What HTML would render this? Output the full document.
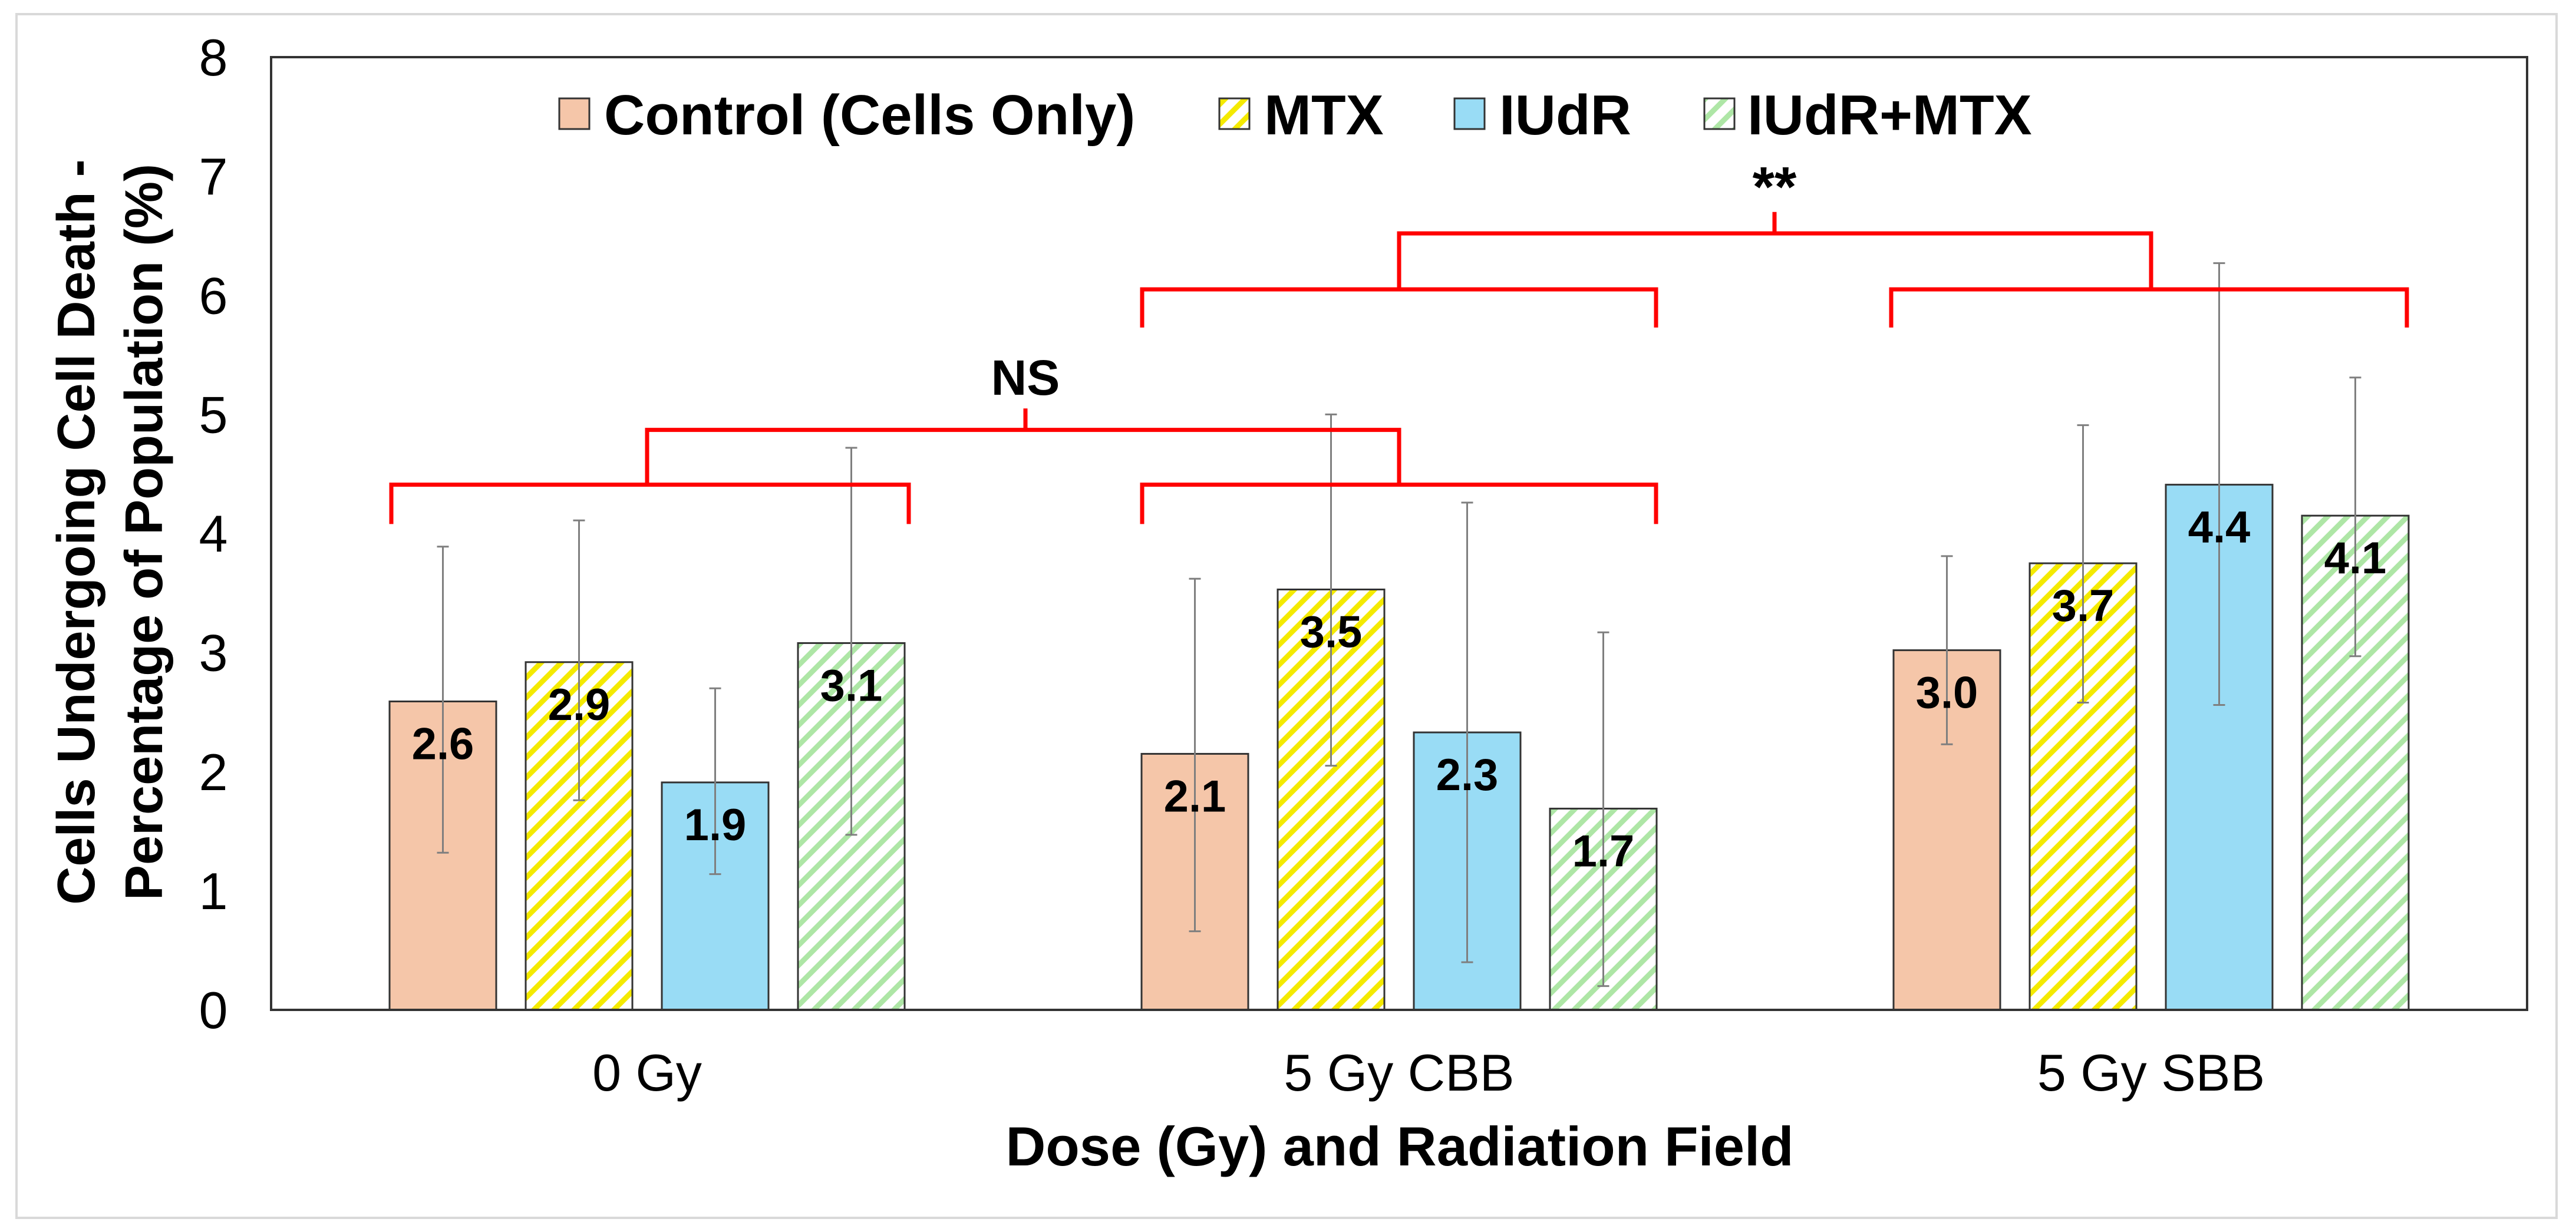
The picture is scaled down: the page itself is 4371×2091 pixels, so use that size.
<!DOCTYPE html>
<html><head><meta charset="utf-8">
<style>
html,body{margin:0;padding:0;background:#fff;}
svg{display:block;font-family:"Liberation Sans",Arial,sans-serif;}
</style></head>
<body>
<svg id="chart" width="4371" height="2091" viewBox="0 0 4371 2091" xmlns="http://www.w3.org/2000/svg">
<defs>
<pattern id="hatchY" patternUnits="userSpaceOnUse" width="24" height="24" patternTransform="rotate(45)">
<rect width="24" height="24" fill="#fff"/><rect x="0" y="0" width="9" height="24" fill="#f4ea00"/></pattern>
<pattern id="hatchG" patternUnits="userSpaceOnUse" width="24" height="24" patternTransform="rotate(45)">
<rect width="24" height="24" fill="#fff"/><rect x="0" y="0" width="9" height="24" fill="#aee6a6"/></pattern>
</defs>
<rect x="28" y="24" width="4310" height="2043" fill="#fff" stroke="#d9d9d9" stroke-width="4"/>
<g id="plot"></g>
</svg>
<script>
const categories = ["0 Gy", "5 Gy CBB", "5 Gy SBB"];
const seriesNames = ["Control (Cells Only)", "MTX", "IUdR", "IUdR+MTX"];
const controlVals = [2.59, 2.15, 3.02];
const mtxVals = [2.92, 3.53, 3.75];
const iudrVals = [1.91, 2.33, 4.41];
const comboVals = [3.08, 1.69, 4.15];
const valueLabels = [["2.6","2.1","3.0"],["2.9","3.5","3.7"],["1.9","2.3","4.4"],["3.1","1.7","4.1"]];
const errHigh = [[3.89,3.62,3.81],[4.11,5.00,4.91],[2.70,4.26,6.27],[4.72,3.17,5.31]];
const errLow = [[1.32,0.66,2.23],[1.76,2.05,2.58],[1.14,0.40,2.56],[1.47,0.20,2.97]];
const yTicks = [0,1,2,3,4,5,6,7,8];

const NS = "http://www.w3.org/2000/svg";
const svg = document.getElementById('plot');
const L = 460, R = 4288, T = 97, B = 1714, yMax = 8;
const y = v => B - (v / yMax) * (B - T);
const catW = (R - L) / categories.length;
const xc = i => L + catW * (i + 0.5);
const barW = 181, step = 231;
const xb = (c, s) => xc(c) + (s - 1.5) * step;
const fills = ["#f5c6a9", "url(#hatchY)", "#99dcf5", "url(#hatchG)"];
const allVals = [controlVals, mtxVals, iudrVals, comboVals];

function el(tag, attrs, parent) {
  const e = document.createElementNS(NS, tag);
  for (const k in attrs) e.setAttribute(k, attrs[k]);
  (parent || svg).appendChild(e);
  return e;
}

// y tick labels
yTicks.forEach(t => {
  const tx = el('text', {x: 362, y: y(t) + 31, 'text-anchor': 'middle', 'font-size': 88, fill: '#000'});
  tx.textContent = t;
  
  
});

// bars
allVals.forEach((vals, s) => {
  vals.forEach((v, c) => {
    const cx = xb(c, s);
    const r = el('rect', {x: cx - barW / 2, y: y(v), width: barW, height: B - y(v), fill: fills[s], stroke: '#333', 'stroke-width': 3});
    
    
  });
});
// error bars
allVals.forEach((vals, s) => {
  vals.forEach((v, c) => {
    const cx = xb(c, s);
    const g = el('g', {stroke: '#7f7f7f', 'stroke-width': 3});
    
    
    el('line', {x1: cx, x2: cx, y1: y(errHigh[s][c]), y2: y(errLow[s][c])}, g);
    el('line', {x1: cx - 10, x2: cx + 10, y1: y(errHigh[s][c]), y2: y(errHigh[s][c])}, g);
    el('line', {x1: cx - 10, x2: cx + 10, y1: y(errLow[s][c]), y2: y(errLow[s][c])}, g);
  });
});
// value labels
allVals.forEach((vals, s) => {
  vals.forEach((v, c) => {
    const t = el('text', {x: xb(c, s), y: y(v) + 98, 'text-anchor': 'middle', 'font-size': 76, 'font-weight': 'bold', fill: '#000'});
    t.textContent = valueLabels[s][c];
    
    
  });
});

// axes
const ax = el('path', {d: `M${L},${T} L${R},${T} L${R},${B} L${L},${B} Z`, fill: 'none', stroke: '#333', 'stroke-width': 4});



// category labels
categories.forEach((c, i) => {
  const t = el('text', {x: xc(i), y: 1851, 'text-anchor': 'middle', 'font-size': 88, fill: '#000'});
  t.textContent = c;
  
  
});
const xt = el('text', {x: 2375, y: 1978, 'text-anchor': 'middle', 'font-size': 94, 'font-weight': 'bold', fill: '#000'});
xt.textContent = 'Dose (Gy) and Radiation Field';



const yt = el('text', {transform: 'translate(0,903) rotate(-90)', 'text-anchor': 'middle', 'font-size': 90, 'font-weight': 'bold', fill: '#000'});


const t1 = el('tspan', {x: 0, y: 160}, yt); t1.textContent = 'Cells Undergoing Cell Death -';
const t2 = el('tspan', {x: 0, y: 275}, yt); t2.textContent = 'Percentage of Population (%)';

// legend
const legX = [[949, 1025], [2069, 2145], [2468, 2544], [2892, 2965]];
seriesNames.forEach((n, s) => {
  const g = el('g', {});
  
  
  el('rect', {x: legX[s][0], y: 167, width: 51, height: 52, fill: fills[s], stroke: '#333', 'stroke-width': 3}, g);
  const t = el('text', {x: legX[s][1], y: 228, 'font-size': 96, 'font-weight': 'bold', fill: '#000'}, g);
  t.textContent = n;
});

// significance brackets
const red = {fill: 'none', stroke: '#ff0000', 'stroke-width': 7};
function bracket(x1, x2, yv, yDrop, name) {
  const p = el('path', Object.assign({d: `M${x1},${y(yDrop)} L${x1},${y(yv)} L${x2},${y(yv)} L${x2},${y(yDrop)}`}, red));
  
  
}
bracket(664, 1542, 4.41, 4.08, 'bracket-0gy');
bracket(1938, 2810, 4.41, 4.08, 'bracket-cbb-low');
bracket(xc(0), xc(1), 4.87, 4.41, 'bracket-ns');
bracket(1938, 2810, 6.05, 5.73, 'bracket-cbb-high');
bracket(3209, 4084, 6.05, 5.73, 'bracket-sbb');
bracket(xc(1), xc(2), 6.52, 6.05, 'bracket-star');
const s1 = el('line', Object.assign({x1: 1740, x2: 1740, y1: y(4.87), y2: y(5.05)}, red));
 
const s2 = el('line', Object.assign({x1: 3011, x2: 3011, y1: y(6.52), y2: y(6.70)}, red));
 
const nsT = el('text', {x: 1740, y: 670, 'text-anchor': 'middle', 'font-size': 84, 'font-weight': 'bold', fill: '#000'});
nsT.textContent = 'NS';
 
const stT = el('text', {x: 3011, y: 350, 'text-anchor': 'middle', 'font-size': 96, 'font-weight': 'bold', fill: '#000'});
stT.textContent = '**';
 
</script>
</body></html>
